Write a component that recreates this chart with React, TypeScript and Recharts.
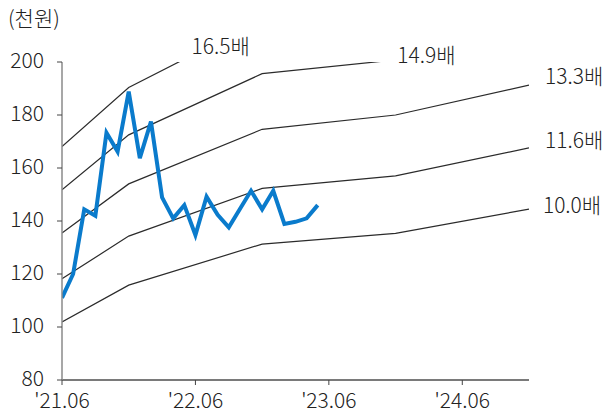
import React from 'react';
import { LineChart, Line, XAxis, YAxis, ReferenceDot } from 'recharts';

// x = months since 2021.06
const xTickMonths = [0, 12, 24, 36];
const xTickLabels = ["'21.06", "'22.06", "'23.06", "'24.06"];
const yTicks = [80, 100, 120, 140, 160, 180, 200];

// monthly share price (천원), '21.06 .. '23.05
const price = [
  111, 120, 144.4, 142, 173.3, 166.2, 188.8, 163.7, 177.5, 148.9, 141, 146,
  134.7, 149.2, 142.3, 137.6, 144.5, 151.4, 144.4, 151.4, 138.9, 139.7, 141, 146,
];

// PER band breakpoints (month index) and values
const bandMonths = [0, 6, 18, 30, 42];
const band100 = [101.9, 115.8, 131.3, 135.3, 144.5];
const band116 = [118.2, 134.3, 152.3, 157.0, 167.6];
const band133 = [135.5, 154.0, 174.6, 180.0, 191.3];
const band149 = [151.8, 172.5, 195.6, 200.8, 215.3];
const band165 = [168.1, 190.4, 216.0, 223.3, 238.4];

const bandLabels = ['16.5배', '14.9배', '13.3배', '11.6배', '10.0배'];
const bandLabelX = [11.2, 29.7, 43.0, 43.0, 42.8];
const bandLabelY = [206, 202.3, 194.7, 170.2, 145.7];

const lastMonth = 42;
const data: any[] = [];
for (let m = 0; m <= lastMonth; m++) {
  const bi = bandMonths.indexOf(m);
  data.push({
    m,
    price: m < price.length ? price[m] : null,
    b100: bi >= 0 ? band100[bi] : null,
    b116: bi >= 0 ? band116[bi] : null,
    b133: bi >= 0 ? band133[bi] : null,
    b149: bi >= 0 ? band149[bi] : null,
    b165: bi >= 0 ? band165[bi] : null,
  });
}

const FONT = "'Noto Sans CJK KR', 'Noto Sans', sans-serif";
const TXT = '#222';
const FS = 21;
const FW = 300;
const bandKeys = ['b165', 'b149', 'b133', 'b116', 'b100'];

export default function App() {
  return (
    <div style={{ position: 'absolute', left: 0, top: 0, width: 602, height: 416, fontFamily: FONT }}>
      <div style={{ position: 'absolute', left: 8, top: 3, fontSize: 21, fontWeight: FW, lineHeight: '28px', color: TXT }}>(천원)</div>
      <LineChart width={602} height={416} data={data} margin={{ top: 62, right: 73, bottom: 0, left: 0 }}>
        <XAxis
          dataKey="m"
          type="number"
          domain={[0, lastMonth]}
          ticks={xTickMonths}
          tickFormatter={(v: number) => xTickLabels[xTickMonths.indexOf(v)]}
          height={36}
          tickSize={5}
          tickMargin={8}
          stroke="#7a7a7a"
          strokeWidth={2}
          tick={{ fill: TXT, fontSize: FS, fontWeight: FW, fontFamily: FONT }}
          tickLine={{ stroke: '#444', strokeWidth: 1 }}
          allowDataOverflow
        />
        <YAxis
          type="number"
          domain={[80, 200]}
          ticks={yTicks}
          width={62}
          tickSize={5}
          tickMargin={13}
          stroke="#8a8a8a"
          strokeWidth={1.5}
          tick={{ fill: TXT, fontSize: FS, fontWeight: FW, fontFamily: FONT, dy: -1 }}
          tickLine={{ stroke: '#444', strokeWidth: 1 }}
          allowDataOverflow
        />
        {bandKeys.map((k) => (
          <Line
            key={k}
            dataKey={k}
            type="linear"
            stroke="#2b2b2b"
            strokeWidth={1.2}
            dot={false}
            connectNulls
            isAnimationActive={false}
          />
        ))}
        <Line
          dataKey="price"
          type="linear"
          stroke="#0a7bcc"
          strokeWidth={4}
          dot={false}
          strokeLinejoin="miter"
          isAnimationActive={false}
        />
        {bandLabels.map((t, i) => (
          <ReferenceDot
            key={t}
            x={bandLabelX[i]}
            y={bandLabelY[i]}
            r={0}
            fill="none"
            stroke="none"
            ifOverflow="visible"
            label={{ value: t, position: 'right', offset: 5, fill: TXT, fontSize: FS, fontWeight: FW, fontFamily: FONT }}
          />
        ))}
      </LineChart>
    </div>
  );
}
